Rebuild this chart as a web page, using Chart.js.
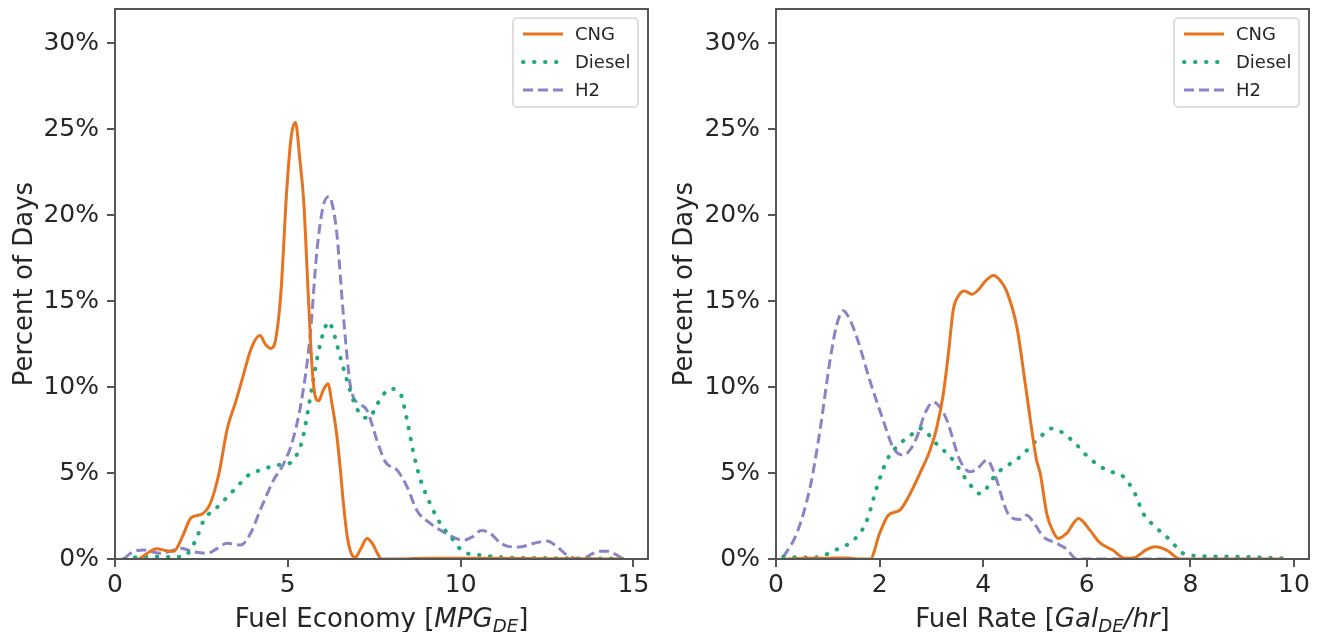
<!DOCTYPE html>
<html>
<head>
<meta charset="utf-8">
<script src="https://cdn.jsdelivr.net/npm/chart.js@4"></script>
<style>
  body { margin: 0; background: #fff; width: 1319px; height: 632px; position: relative; overflow: hidden; font-family: "DejaVu Sans", sans-serif; }
  canvas { position: absolute; top: 0; }
  #econ { left: 0; }
  #rate { left: 660px; }
  .xtitle { position: absolute; top: 602px; width: 533px; font-size: 26px; line-height: 32px; color: #262626; text-align: center; white-space: nowrap; }
  .xtitle sub { font-size: 70%; vertical-align: -0.28em; line-height: 0; }
</style>
</head>
<body>
<canvas id="econ" width="660" height="632"></canvas>
<canvas id="rate" width="659" height="632"></canvas>
<div class="xtitle" style="left:115px">Fuel Economy [<i>MPG<sub>DE</sub></i>]</div>
<div class="xtitle" style="left:776px">Fuel Rate [<i>Gal<sub>DE</sub>/hr</i>]</div>
<script>
// series names
const seriesNames = ["CNG", "Diesel", "H2"];

// left panel: fuel economy (MPG_DE) vs percent of days
const econCng = [[0.7,0],[0.95,0.35],[1.2,0.6],[1.45,0.5],[1.7,0.45],[1.95,1.3],[2.2,2.4],[2.5,2.6],[2.75,3.2],[3.0,4.9],[3.25,7.6],[3.5,9.2],[3.7,10.6],[3.95,12.3],[4.19,13.0],[4.35,12.5],[4.51,12.25],[4.65,12.8],[4.8,15.5],[4.97,21.5],[5.1,24.6],[5.22,25.4],[5.35,23.2],[5.46,20.8],[5.6,15],[5.7,11.2],[5.8,9.4],[5.89,9.2],[6.02,9.8],[6.16,10.2],[6.28,9],[6.41,7.3],[6.52,5.2],[6.6,3.4],[6.72,1.3],[6.85,0.25],[6.95,0.1],[7.1,0.55],[7.29,1.2],[7.45,0.9],[7.6,0.3],[7.72,0],[8.3,0],[9.0,0.05],[10.5,0.04],[12.5,0.02],[14.7,0]];
const econDiesel = [[0.26,0],[0.6,0.1],[1.03,0.13],[1.5,0.12],[2.0,0.15],[2.2,0.6],[2.38,1.3],[2.57,2.26],[2.95,3.0],[3.34,3.8],[3.72,4.6],[3.92,4.97],[4.2,5.17],[4.69,5.46],[5.08,5.6],[5.22,5.94],[5.36,6.5],[5.46,7.3],[5.58,8.6],[5.7,10.0],[5.89,12.1],[6.05,13.3],[6.18,13.8],[6.32,13.2],[6.47,12.1],[6.71,10.4],[6.9,9.2],[7.15,8.3],[7.35,8.2],[7.58,9.0],[7.97,9.9],[8.26,9.6],[8.45,8.07],[8.64,6.13],[8.84,4.6],[9.12,3.2],[9.41,2.07],[9.75,1.2],[10.08,0.42],[10.56,0.23],[11.2,0.1],[12.5,0.05],[14.7,0.02]];
const econH2 = [[0.26,0],[0.45,0.33],[0.65,0.5],[0.84,0.52],[1.1,0.4],[1.32,0.33],[1.6,0.45],[1.9,0.62],[2.28,0.42],[2.67,0.33],[2.95,0.6],[3.24,0.91],[3.63,0.81],[3.92,1.49],[4.2,2.84],[4.59,4.6],[4.88,5.55],[5.17,7.1],[5.46,10.0],[5.65,13.1],[5.84,17.9],[6.02,20.5],[6.2,21.1],[6.32,20.3],[6.42,18.9],[6.61,14.1],[6.8,10.2],[6.9,9.4],[7.1,9.0],[7.29,8.65],[7.58,6.9],[7.82,5.65],[8.16,5.17],[8.45,4.2],[8.73,2.84],[9.12,2.07],[9.5,1.58],[10.08,1.1],[10.35,1.3],[10.6,1.66],[10.85,1.5],[11.14,0.95],[11.4,0.72],[11.7,0.7],[12.1,0.9],[12.5,1.05],[12.8,0.7],[13.07,0.23],[13.3,0.05],[13.55,0.04],[13.8,0.3],[14.03,0.45],[14.25,0.45],[14.42,0.33],[14.7,0]];

// right panel: fuel rate (Gal_DE/hr) vs percent of days
const rateCng = [[0.2,0],[0.6,0.04],[1.0,0.05],[1.4,0.06],[1.55,0],[1.82,0],[2.0,1.49],[2.17,2.55],[2.39,2.84],[2.59,3.8],[2.78,5.0],[2.97,6.3],[3.1,7.6],[3.23,9.6],[3.33,12.0],[3.42,14.45],[3.52,15.3],[3.64,15.6],[3.78,15.4],[3.92,15.7],[4.05,16.2],[4.2,16.5],[4.33,16.2],[4.45,15.6],[4.65,13.5],[4.84,9.6],[5.03,5.75],[5.1,5.0],[5.23,2.6],[5.35,1.6],[5.45,1.2],[5.61,1.49],[5.84,2.36],[6.06,1.68],[6.25,0.95],[6.5,0.52],[6.74,0.04],[6.96,0.13],[7.15,0.55],[7.32,0.71],[7.54,0.52],[7.8,0],[9.8,0]];
const rateDiesel = [[0.14,0.13],[0.45,0.1],[0.72,0.08],[1.0,0.3],[1.2,0.6],[1.5,1.1],[1.75,2.2],[1.95,4.2],[2.15,5.8],[2.39,6.7],[2.6,7.2],[2.78,7.6],[3.1,6.7],[3.42,5.75],[3.68,4.6],[3.94,3.8],[4.26,4.97],[4.71,5.94],[5.1,7.1],[5.33,7.6],[5.68,7.0],[6.06,5.84],[6.38,5.17],[6.71,4.78],[6.93,3.8],[7.09,2.65],[7.32,1.88],[7.61,1.1],[7.86,0.33],[8.24,0.17],[8.95,0.13],[9.83,0.04]];
const rateH2 = [[0.14,0.1],[0.4,1.49],[0.66,4.2],[0.85,7.5],[1.04,11.5],[1.17,13.6],[1.3,14.45],[1.43,13.9],[1.56,12.9],[1.81,10.4],[2.07,8.07],[2.26,6.5],[2.46,6.04],[2.6,6.4],[2.72,7.1],[2.88,8.5],[3.04,9.13],[3.15,8.9],[3.3,8.07],[3.55,5.75],[3.75,5.07],[3.9,5.3],[4.07,5.75],[4.26,4.6],[4.4,3.2],[4.52,2.46],[4.7,2.3],[4.84,2.55],[5.0,2.0],[5.16,1.3],[5.42,0.91],[5.6,0.6],[5.81,0],[7.6,0]];

const yTicksMax = 32;

Chart.defaults.font.family = "'DejaVu Sans', sans-serif";
Chart.defaults.color = "#262626";

const styles = [
  { borderColor: "#e5731f", borderWidth: 3 },
  { borderColor: "#1fa97c", borderWidth: 4, borderDash: [0.5, 10.5], borderCapStyle: "round" },
  { borderColor: "#8a84c6", borderWidth: 3, borderDash: [10, 5] }
];

function ds(i, pts) {
  return Object.assign({
    label: seriesNames[i],
    data: pts.map(p => ({ x: p[0], y: p[1] })),
    pointRadius: 0,
    fill: false,
    cubicInterpolationMode: "monotone"
  }, styles[i]);
}

// frame around the plot area
const frame = {
  id: "frame",
  afterDatasetsDraw(chart) {
    const { ctx, chartArea: a } = chart;
    ctx.save();
    ctx.strokeStyle = "#555";
    ctx.lineWidth = 2;
    ctx.strokeRect(a.left, a.top, a.right - a.left, a.bottom - a.top);
    ctx.restore();
  }
};

// matplotlib-like legend box, top right
const legendBox = {
  id: "legendBox",
  afterDraw(chart) {
    const { ctx, chartArea: a } = chart;
    const w = 125, h = 89;
    const x0 = a.right - 10 - w, y0 = a.top + 9;
    ctx.save();
    ctx.fillStyle = "rgba(255,255,255,0.85)";
    ctx.strokeStyle = "#d4d4d4";
    ctx.lineWidth = 1.5;
    ctx.beginPath();
    ctx.roundRect(x0, y0, w, h, 4);
    ctx.fill();
    ctx.stroke();
    chart.data.datasets.forEach((d, i) => {
      const y = y0 + 16 + i * 28;
      ctx.strokeStyle = d.borderColor;
      ctx.lineWidth = d.borderWidth;
      ctx.lineCap = d.borderCapStyle || "butt";
      ctx.setLineDash(d.borderDash || []);
      ctx.beginPath();
      ctx.moveTo(x0 + 10, y);
      ctx.lineTo(x0 + 50, y);
      ctx.stroke();
      ctx.setLineDash([]);
      ctx.fillStyle = "#262626";
      ctx.font = "18px 'DejaVu Sans'";
      ctx.textBaseline = "middle";
      ctx.fillText(d.label, x0 + 62, y + 1);
    });
    ctx.restore();
  }
};

function panel(id, datasets, xMax, xStep, yWidth, padRight) {
  return new Chart(document.getElementById(id), {
    type: "line",
    data: { datasets },
    options: {
      responsive: false,
      animation: false,
      devicePixelRatio: 1,
      layout: { padding: { top: 9, right: padRight, left: 0, bottom: 0 } },
      plugins: { legend: { display: false }, tooltip: { enabled: false } },
      scales: {
        x: {
          type: "linear", min: 0, max: xMax,
          afterFit: s => { s.height = 73; s.paddingLeft = 0; s.paddingRight = 0; },
          border: { display: false },
          grid: { drawOnChartArea: false, drawTicks: true, tickLength: 8, color: "#555", lineWidth: 2 },
          ticks: { stepSize: xStep, includeBounds: false, font: { size: 25 }, padding: 3, maxRotation: 0 }
        },
        y: {
          min: 0, max: yTicksMax,
          afterFit: s => { s.width = yWidth; s.paddingTop = 0; s.paddingBottom = 0; },
          border: { display: false },
          grid: { drawOnChartArea: false, drawTicks: true, tickLength: 8, color: "#555", lineWidth: 2 },
          ticks: { stepSize: 5, includeBounds: false, font: { size: 25 }, padding: 8, callback: v => v + "%" },
          title: { display: true, text: "Percent of Days", font: { size: 26 }, padding: { top: 10, bottom: 0 } }
        }
      }
    },
    plugins: [frame, legendBox]
  });
}

panel("econ", [ds(0, econCng), ds(1, econDiesel), ds(2, econH2)], 15.42, 5, 115, 12);
panel("rate", [ds(0, rateCng), ds(1, rateDiesel), ds(2, rateH2)], 10.29, 2, 116, 10);
</script>
</body>
</html>
